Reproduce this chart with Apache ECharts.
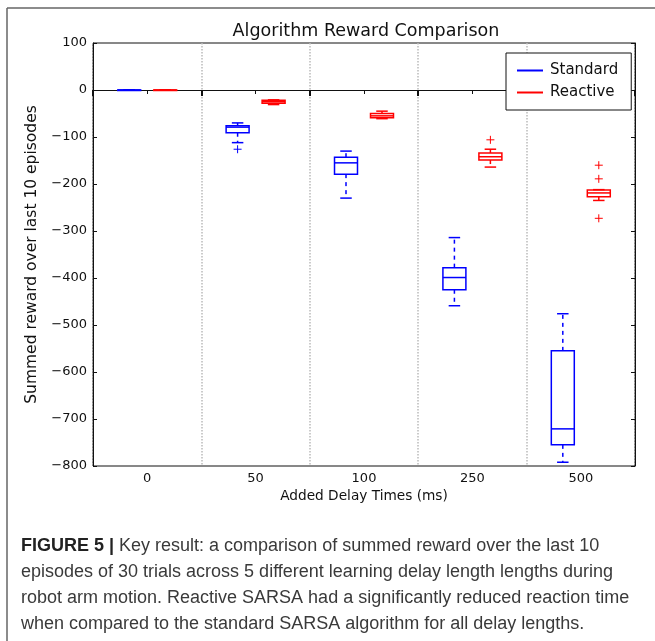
<!DOCTYPE html>
<html lang="en">
<head>
    <meta charset="UTF-8">
    <title>Algorithm Reward Comparison</title>
    <script type="text/javascript" src="https://cdn.jsdelivr.net/npm/echarts@6/dist/echarts.min.js"></script>
    <style>
        body { margin: 0; background: #fff; }
    </style>
</head>
<body>
<div id="chartmain" style="width:655px;height:641px"></div>
<script>
    // delay lengths (ms)
    var categories = ['0', '50', '100', '250', '500'];
    // [min, q1, median, q3, max] per delay
    var standardStats = [
        [0, 0, 0, 0, 0],
        [-112, -91, -79, -76, -70],
        [-230, -179, -155, -143, -130],
        [-459, -425, -399, -378, -314],
        [-792, -755, -721, -555, -476]
    ];
    var reactiveStats = [
        [0, 0, 0, 0, 0],
        [-31, -28, -25, -22, -21],
        [-61, -59, -55, -50, -45],
        [-164, -149, -142, -134, -126],
        [-235, -227, -219, -213, -212]
    ];
    // [category index, value]
    var standardOutliers = [[1, -126]];
    var reactiveOutliers = [[3, -106], [4, -160], [4, -189], [4, -273]];
    var yTicks = {min: -800, max: 100, step: 100};

    var captionLines = [
        ' Key result: a comparison of summed reward over the last 10',
        'episodes of 30 trials across 5 different learning delay length lengths during',
        'robot arm motion. Reactive SARSA had a significantly reduced reaction time',
        'when compared to the standard SARSA algorithm for all delay lengths.'
    ];

    var BLUE = '#0000ff';
    var RED = '#ff0000';

    function boxData(stats) {
        return stats.map(function (s, i) { return [i].concat(s); });
    }

    function makeBoxRender(shift, color) {
        return function (params, api) {
            var idx = api.value(0);
            var band = api.size([1, 0])[0];
            var half = band * 0.106;
            var capHalf = half / 2;
            var cx = api.coord([idx, 0])[0] + band * shift;
            var yMin = api.coord([idx, api.value(1)])[1];
            var yQ1 = api.coord([idx, api.value(2)])[1];
            var yMed = api.coord([idx, api.value(3)])[1];
            var yQ3 = api.coord([idx, api.value(4)])[1];
            var yMax = api.coord([idx, api.value(5)])[1];
            var solid = {stroke: color, lineWidth: 1.5, fill: null};
            var dashed = {stroke: color, lineWidth: 1.5, lineDash: [4, 4], fill: null};
            return {
                type: 'group',
                children: [
                    {type: 'line', shape: {x1: cx, y1: yQ3, x2: cx, y2: yMax}, style: dashed},
                    {type: 'line', shape: {x1: cx, y1: yQ1, x2: cx, y2: yMin}, style: dashed},
                    {type: 'line', shape: {x1: cx - capHalf, y1: yMax, x2: cx + capHalf, y2: yMax}, style: solid},
                    {type: 'line', shape: {x1: cx - capHalf, y1: yMin, x2: cx + capHalf, y2: yMin}, style: solid},
                    {type: 'rect', shape: {x: cx - half, y: yQ3, width: half * 2, height: Math.max(yQ1 - yQ3, 0.5)}, style: solid},
                    {type: 'line', shape: {x1: cx - half, y1: yMed, x2: cx + half, y2: yMed}, style: solid}
                ]
            };
        };
    }

    function makeFlierRender(shift, color) {
        return function (params, api) {
            var idx = api.value(0);
            var band = api.size([1, 0])[0];
            var p = api.coord([idx, api.value(1)]);
            var cx = p[0] + band * shift;
            var r = 4;
            var st = {stroke: color, lineWidth: 1};
            return {
                type: 'group',
                children: [
                    {type: 'line', shape: {x1: cx - r, y1: p[1], x2: cx + r, y2: p[1]}, style: st},
                    {type: 'line', shape: {x1: cx, y1: p[1] - r, x2: cx, y2: p[1] + r}, style: st}
                ]
            };
        };
    }

    var graphics = [
        {type: 'line', shape: {x1: 7, y1: 8, x2: 655, y2: 8}, style: {stroke: '#666', lineWidth: 1.5}},
        {type: 'line', shape: {x1: 7, y1: 8, x2: 7, y2: 641}, style: {stroke: '#666', lineWidth: 1.5}},
        {
            type: 'text', x: 366, y: 31,
            style: {
                text: 'Algorithm Reward Comparison',
                font: '17.5px "DejaVu Sans"', fill: '#111',
                align: 'center', verticalAlign: 'middle'
            }
        }
    ];
    captionLines.forEach(function (t, i) {
        graphics.push({
            type: 'text',
            left: 21,
            top: 537 + i * 26,
            style: {
                text: i === 0 ? '{b|FIGURE 5 |}' + t : t,
                font: '18px "Liberation Sans", Arial, sans-serif',
                fill: '#3a3a3a',
                rich: {
                    b: {font: 'bold 18px "Liberation Sans", Arial, sans-serif', fill: '#222'}
                }
            }
        });
    });

    var axisFont = {fontFamily: 'DejaVu Sans', fontSize: 13, color: '#111'};

    var option = {
        animation: false,
        backgroundColor: '#fff',
        legend: {
            orient: 'vertical',
            left: 506,
            top: 53,
            padding: [10, 13, 10, 11],
            itemGap: 7,
            itemWidth: 26,
            itemHeight: 2,
            borderColor: '#111',
            borderWidth: 1,
            backgroundColor: '#fff',
            textStyle: {fontFamily: 'DejaVu Sans', fontSize: 15, color: '#111', padding: [0, 0, 0, 2]},
            data: [{name: 'Standard', icon: 'rect'}, {name: 'Reactive', icon: 'rect'}]
        },
        grid: {
            left: 93, right: 20, top: 43, bottom: 175,
            show: true, borderColor: '#111', borderWidth: 1
        },
        xAxis: [
            {
                type: 'category',
                data: categories,
                position: 'bottom',
                name: 'Added Delay Times (ms)',
                nameLocation: 'middle',
                nameGap: 21,
                nameTextStyle: {fontFamily: 'DejaVu Sans', fontSize: 13.7, color: '#111'},
                axisLine: {lineStyle: {color: '#111', width: 1}},
                axisTick: {show: true, inside: false, length: 6, lineStyle: {color: '#111', width: 2}},
                axisLabel: Object.assign({margin: 6}, axisFont),
                splitLine: {show: true, lineStyle: {color: '#bbb', type: 'dotted', width: 1.5}}
            },
            {
                type: 'category',
                data: categories,
                position: 'top',
                axisLine: {lineStyle: {color: '#111', width: 1}},
                axisTick: {show: true, inside: true, alignWithLabel: true, length: 4, lineStyle: {color: '#111'}},
                axisLabel: {show: false},
                splitLine: {show: false}
            }
        ],
        yAxis: [
            {
                type: 'value',
                min: yTicks.min,
                max: yTicks.max,
                interval: yTicks.step,
                name: 'Summed reward over last 10 episodes',
                nameLocation: 'middle',
                nameGap: 45,
                nameTextStyle: {fontFamily: 'DejaVu Sans', fontSize: 15.5, color: '#111'},
                axisLine: {show: true, lineStyle: {color: '#111', width: 1}},
                axisTick: {show: true, inside: true, length: 4, lineStyle: {color: '#111'}},
                axisLabel: Object.assign({
                    margin: 6,
                    formatter: function (v) { return String(v).replace('-', '\u2212'); }
                }, axisFont),
                splitLine: {show: false}
            },
            {
                type: 'value',
                position: 'right',
                min: yTicks.min,
                max: yTicks.max,
                interval: yTicks.step,
                axisLine: {show: true, lineStyle: {color: '#111', width: 1}},
                axisTick: {show: true, inside: true, length: 4, lineStyle: {color: '#111'}},
                axisLabel: {show: false},
                splitLine: {show: false}
            }
        ],
        graphic: graphics,
        series: [
            {
                name: 'Standard', type: 'custom', itemStyle: {color: BLUE},
                renderItem: makeBoxRender(-0.166, BLUE),
                encode: {x: 0, y: [1, 2, 3, 4, 5]},
                data: boxData(standardStats)
            },
            {
                name: 'Reactive', type: 'custom', itemStyle: {color: RED},
                renderItem: makeBoxRender(0.166, RED),
                encode: {x: 0, y: [1, 2, 3, 4, 5]},
                data: boxData(reactiveStats)
            },
            {
                name: 'Standard', type: 'custom', itemStyle: {color: BLUE},
                renderItem: makeFlierRender(-0.166, BLUE),
                encode: {x: 0, y: 1},
                data: standardOutliers
            },
            {
                name: 'Reactive', type: 'custom', itemStyle: {color: RED},
                renderItem: makeFlierRender(0.166, RED),
                encode: {x: 0, y: 1},
                data: reactiveOutliers
            }
        ]
    };

    var myChart = echarts.init(document.getElementById('chartmain'));
    myChart.setOption(option);
</script>
</body>
</html>
